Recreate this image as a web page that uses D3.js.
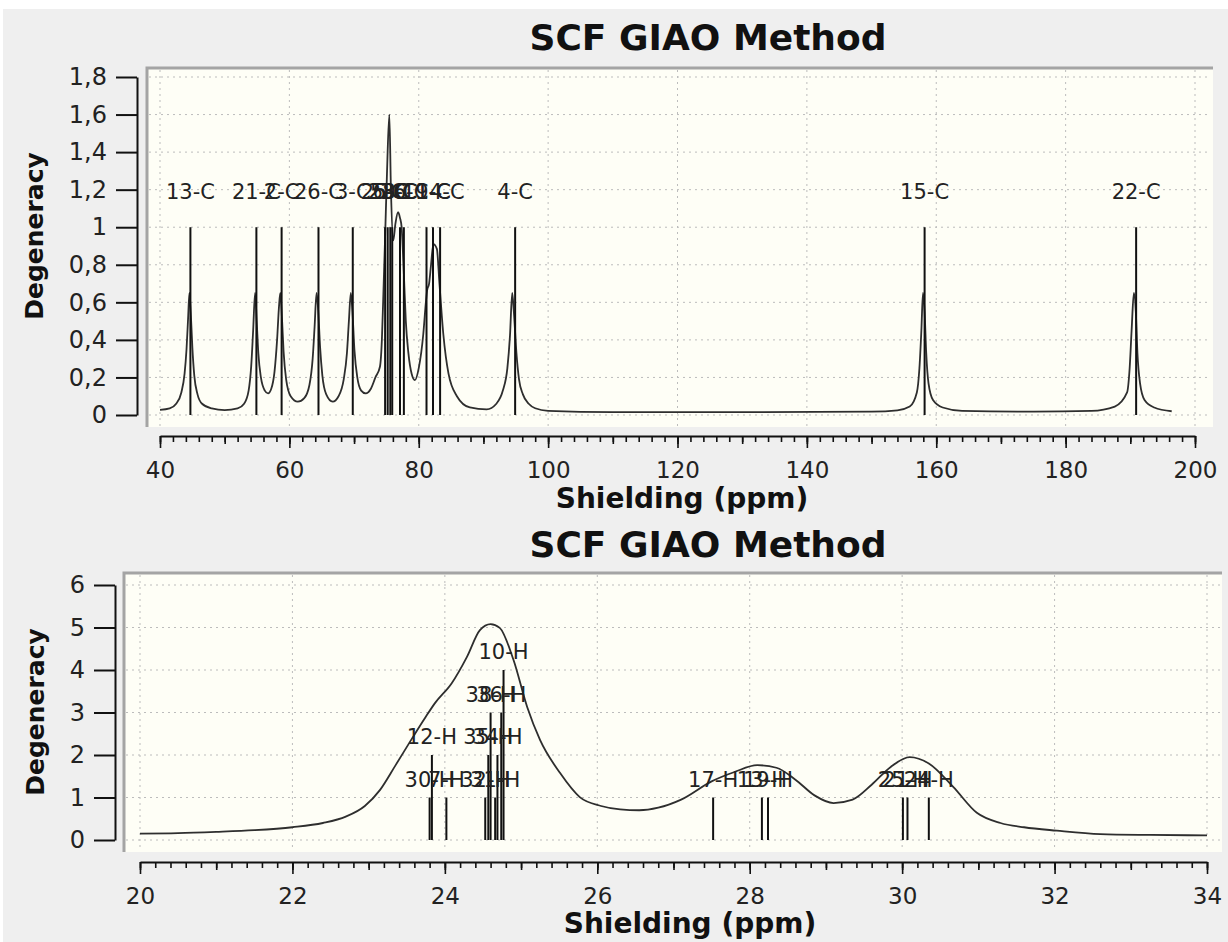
<!DOCTYPE html>
<html><head><meta charset="utf-8">
<script src="https://cdn.jsdelivr.net/npm/d3@7/dist/d3.min.js"></script>
<style>
html,body{margin:0;padding:0;background:#efefef;}
svg{display:block;}
text{font-family:"DejaVu Sans",Verdana,sans-serif;}
</style></head>
<body>
<svg id="c" width="1228" height="942"></svg>
<script>
// ---------- DATA: 13C spectrum (top) ----------
const carbonShift = [44.7, 54.9, 58.8, 64.5, 69.8, 74.8, 75.2, 75.6, 75.9, 77.1, 77.7, 81.2, 82.2, 83.3, 94.9, 158.2, 190.9];
const carbonDeg   = [1, 1, 1, 1, 1, 1, 1, 1, 1, 1, 1, 1, 1, 1, 1, 1, 1];
const carbonLabel = ["13-C","21-C","2-C","26-C","3-C","25-C","5-C","6-C","23-C","8-C","16-C","11-C","9-C","14-C","4-C","15-C","22-C"];
const carbonCurve = [
 [40.0,0.027],[41.5,0.035],[42.5,0.06],[43.3,0.12],[43.8,0.22],[44.1,0.35],[44.35,0.52],[44.55,0.65],[44.75,0.55],[45.0,0.36],[45.3,0.21],[45.8,0.11],[46.5,0.06],[48,0.035],[50,0.026],
 [52,0.035],[53,0.06],[53.7,0.13],[54.1,0.26],[54.4,0.45],[54.7,0.65],[54.95,0.5],[55.2,0.33],[55.6,0.2],[56.2,0.13],[56.7,0.115],[57.2,0.14],[57.7,0.23],[58.1,0.4],[58.4,0.58],[58.6,0.65],
 [58.85,0.52],[59.1,0.34],[59.5,0.19],[60.2,0.1],[61.3,0.071],[62.3,0.09],[63.1,0.16],[63.6,0.3],[63.9,0.47],[64.2,0.65],[64.45,0.56],[64.75,0.36],[65.1,0.21],[65.7,0.11],[66.7,0.071],
 [67.6,0.1],[68.4,0.19],[68.9,0.33],[69.2,0.5],[69.5,0.65],[69.75,0.55],[70.05,0.35],[70.5,0.2],[71.1,0.13],[71.8,0.115],[72.6,0.14],[73.3,0.2],[74.0,0.257],[74.3,0.4],[74.5,0.61],
 [74.8,0.95],[75.1,1.3],[75.45,1.6],[75.7,1.2],[76.06,0.93],[76.4,1.02],[76.8,1.08],[77.1,1.05],[77.35,1.0],[77.7,0.75],[78.0,0.5],[78.4,0.33],[78.9,0.22],[79.4,0.186],[80.0,0.25],
 [80.7,0.43],[81.1,0.6],[81.3,0.665],[81.6,0.7],[81.9,0.8],[82.25,0.91],[82.8,0.885],[83.2,0.7],[83.8,0.43],[84.6,0.22],[85.9,0.10],[87.9,0.04],[90.5,0.03],[92.0,0.06],[93.0,0.13],
 [93.7,0.25],[94.1,0.42],[94.45,0.65],[94.7,0.55],[95.1,0.33],[95.5,0.19],[96.1,0.11],[97.0,0.06],[98,0.036],[100,0.022],[110,0.015],[130,0.015],[150,0.018],[154,0.025],[155.9,0.045],
 [157.0,0.12],[157.4,0.25],[157.7,0.45],[157.95,0.65],[158.2,0.55],[158.45,0.33],[158.8,0.17],[159.5,0.08],[161,0.04],[164,0.022],[175,0.018],[184,0.022],[187.6,0.045],[189.5,0.12],
 [189.9,0.25],[190.2,0.45],[190.55,0.65],[190.85,0.55],[191.1,0.33],[191.5,0.17],[192.2,0.08],[193.7,0.04],[196.4,0.02]
];
const carbonXTicks = [40, 60, 80, 100, 120, 140, 160, 180, 200];
const carbonYTicks = [0, 0.2, 0.4, 0.6, 0.8, 1, 1.2, 1.4, 1.6, 1.8];
const carbonYTickLabels = ["0","0,2","0,4","0,6","0,8","1","1,2","1,4","1,6","1,8"];

// ---------- DATA: 1H spectrum (bottom) ----------
const protonShift = [23.80, 23.83, 24.02, 24.53, 24.57, 24.60, 24.66, 24.69, 24.74, 24.77, 27.52, 28.16, 28.24, 30.01, 30.07, 30.35];
const protonDeg   = [1, 2, 1, 1, 2, 3, 1, 2, 3, 4, 1, 1, 1, 1, 1, 1];
const protonLabel = ["30-H","12-H","7-H","32-H","35-H","38-H","31-H","34-H","36-H","10-H","17-H","13-H","19-H","25-H","21-H","24-H"];
const protonCurve = [
 [20.0,0.15],[20.5,0.16],[21.0,0.19],[21.5,0.23],[22.0,0.3],[22.4,0.4],[22.7,0.55],[22.95,0.8],[23.15,1.18],[23.35,1.75],[23.58,2.42],[23.75,2.9],[23.87,3.22],[24.09,3.69],[24.29,4.31],
 [24.46,4.94],[24.6,5.08],[24.72,4.99],[24.9,4.24],[25.08,3.13],[25.25,2.35],[25.51,1.58],[25.77,1.01],[26.05,0.8],[26.3,0.72],[26.55,0.7],[26.8,0.76],[27.1,0.95],[27.5,1.38],[27.8,1.6],
 [28.1,1.76],[28.35,1.7],[28.6,1.42],[28.85,1.05],[29.1,0.87],[29.35,0.95],[29.6,1.3],[29.85,1.72],[30.1,1.95],[30.35,1.8],[30.67,1.25],[30.98,0.64],[31.29,0.4],[31.6,0.3],[32.03,0.22],
 [32.6,0.14],[33.25,0.12],[34.0,0.11]
];
const protonXTicks = [20, 22, 24, 26, 28, 30, 32, 34];
const protonYTicks = [0, 1, 2, 3, 4, 5, 6];
const protonYTickLabels = ["0","1","2","3","4","5","6"];

const chartTitle = "SCF GIAO Method";
const xTitle = "Shielding (ppm)";
const yTitle = "Degeneracy";

// ---------- DRAW ----------
const svg = d3.select("#c");
svg.append("rect").attr("width",1228).attr("height",942).attr("fill","#efefef");
svg.append("rect").attr("width",1228).attr("height",9).attr("fill","#ffffff");
svg.append("rect").attr("width",3).attr("height",942).attr("fill","#ffffff");

function panel(cfg){
  const x = d3.scaleLinear().domain(cfg.xDomain).range(cfg.xRange);
  const y = d3.scaleLinear().domain(cfg.yDomain).range(cfg.yRange);
  const g = svg.append("g");
  const [bx0,by0,bx1,by1] = cfg.box;

  // title
  g.append("text").attr("x",cfg.titleX).attr("y",cfg.titleY).attr("text-anchor","middle")
    .attr("font-size",36).attr("font-weight","bold").attr("fill","#111").text(chartTitle);

  // plot background + border
  g.append("rect").attr("x",bx0).attr("y",by0).attr("width",bx1-bx0).attr("height",by1-by0).attr("fill","#fefef6");
  g.append("path").attr("d",`M${bx0},${by1}V${by0}H${bx1}`).attr("fill","none").attr("stroke","#a4a4a4").attr("stroke-width",3);

  // grid
  const grid = g.append("g").attr("stroke","#bcbcbc").attr("stroke-width",1).attr("stroke-dasharray","2,4");
  grid.selectAll("line.h").data(cfg.yTicks).join("line")
    .attr("x1",bx0+2).attr("x2",bx1-2).attr("y1",d=>y(d)).attr("y2",d=>y(d));
  grid.selectAll("line.v").data(cfg.xTicks).join("line")
    .attr("y1",by0+2).attr("y2",by1-1).attr("x1",d=>x(d)).attr("x2",d=>x(d));

  // curve
  const line = d3.line().x(d=>x(d[0])).y(d=>y(d[1])).curve(d3.curveMonotoneX);
  g.append("path").datum(cfg.curve).attr("d",line).attr("fill","none").attr("stroke","#2e2e2e").attr("stroke-width",1.8);

  // sticks
  const sticks = cfg.shift.map((s,i)=>({s, h:cfg.deg[i], label:cfg.label[i]}));
  g.append("g").selectAll("line").data(sticks).join("line")
    .attr("x1",d=>x(d.s)).attr("x2",d=>x(d.s)).attr("y1",y(0)).attr("y2",d=>y(d.h))
    .attr("stroke","#111").attr("stroke-width",2);
  g.append("g").selectAll("text").data(sticks).join("text")
    .attr("x",d=>x(d.s)).attr("y",d=>y(d.h)-cfg.labelOffset).attr("text-anchor","middle")
    .attr("font-size",21).attr("fill","#222").text(d=>d.label);

  // y axis
  const yAxis = d3.axisLeft(y).tickValues(cfg.yTicks).tickSize(21).tickSizeOuter(0).tickPadding(9)
    .tickFormat((d,i)=>cfg.yTickLabels[i]);
  const ya = g.append("g").attr("transform",`translate(${cfg.yAxisX},0)`).call(yAxis);
  ya.select(".domain").attr("stroke","#111").attr("stroke-width",2);
  ya.selectAll(".tick line").attr("stroke","#111").attr("stroke-width",2);
  ya.selectAll(".tick text").attr("font-size",24).attr("fill","#222").attr("font-family","DejaVu Sans");

  // x axis: minor, mid, major
  const xa = g.append("g").attr("transform",`translate(0,${cfg.xAxisY})`);
  xa.append("g").call(d3.axisBottom(x).tickValues(d3.range(cfg.xDomain[0],cfg.xDomain[1]+cfg.minor/2,cfg.minor)).tickSize(6).tickFormat(""))
    .call(s=>s.select(".domain").remove());
  xa.append("g").call(d3.axisBottom(x).tickValues(d3.range(cfg.xDomain[0],cfg.xDomain[1]+cfg.mid/2,cfg.mid)).tickSize(8).tickFormat(""))
    .call(s=>s.select(".domain").remove());
  const maj = xa.append("g").call(d3.axisBottom(x).tickValues(cfg.xTicks).tickSize(12).tickSizeOuter(0).tickPadding(14));
  maj.select(".domain").attr("stroke","#111").attr("stroke-width",2);
  xa.selectAll(".tick line").attr("stroke","#111").attr("stroke-width",1.6);
  maj.selectAll(".tick text").attr("font-size",23).attr("fill","#222").attr("font-family","DejaVu Sans");

  // axis titles
  g.append("text").attr("x",cfg.xTitleX).attr("y",cfg.xTitleY).attr("text-anchor","middle")
    .attr("font-size",28).attr("font-weight","bold").attr("fill","#111").text(xTitle);
  g.append("text").attr("transform",`translate(${cfg.yTitleX},${cfg.yTitleY}) rotate(-90)`).attr("text-anchor","middle")
    .attr("font-size",25).attr("font-weight","bold").attr("fill","#111").text(yTitle);
}

panel({
  xDomain:[40,200], xRange:[160,1195], yDomain:[0,1.8], yRange:[415,77],
  box:[147,68,1213,427], titleX:708, titleY:50,
  curve:carbonCurve, shift:carbonShift, deg:carbonDeg, label:carbonLabel,
  xTicks:carbonXTicks, yTicks:carbonYTicks, yTickLabels:carbonYTickLabels,
  labelOffset:28, yAxisX:137, xAxisY:436, minor:2, mid:10,
  xTitleX:682, xTitleY:508, yTitleX:43, yTitleY:236
});
panel({
  xDomain:[20,34], xRange:[140,1207], yDomain:[0,6], yRange:[840,585],
  box:[124,573,1222,852], titleX:708, titleY:557,
  curve:protonCurve, shift:protonShift, deg:protonDeg, label:protonLabel,
  xTicks:protonXTicks, yTicks:protonYTicks, yTickLabels:protonYTickLabels,
  labelOffset:11, yAxisX:115, xAxisY:862, minor:0.2, mid:1,
  xTitleX:690, xTitleY:933, yTitleX:44, yTitleY:712
});
</script>
</body></html>
